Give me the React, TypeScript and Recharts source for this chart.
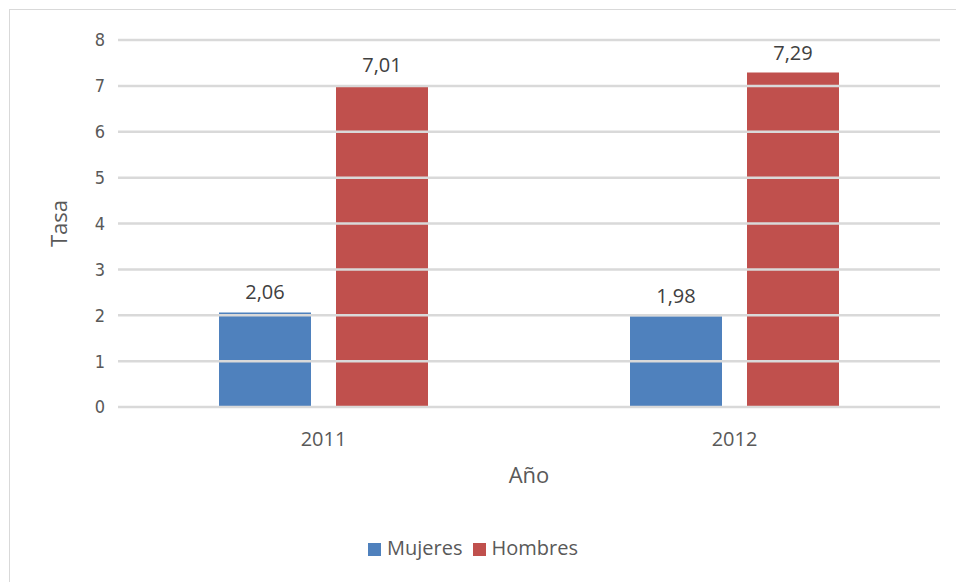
import { BarChart, Bar, XAxis, YAxis, ReferenceLine, Legend, LabelList } from 'recharts'

const years = ['2011', '2012']
const mujeres = [2.06, 1.98]
const hombres = [7.01, 7.29]
const yTicks = [0, 1, 2, 3, 4, 5, 6, 7, 8]
const seriesOrder = ['Mujeres', 'Hombres']

const BLUE = '#4F81BD'
const RED = '#C0504D'
const GRID = '#d9d9d9'
const FONT = '"Open Sans", "Noto Sans", sans-serif'

const data = years.map((y, i) => ({ year: y, mujeres: mujeres[i], hombres: hombres[i] }))

// coma decimal como en el original
const fmt = (v: any) => Number(v).toFixed(2).replace('.', ',')

export default function App() {
  return (
    <div style={{ position: 'absolute', left: 0, top: 0, width: 956, height: 582, background: '#fff', fontFamily: FONT }}>
      {/* marco del gráfico: sólo se ven el borde superior e izquierdo */}
      <div style={{ position: 'absolute', left: 9, top: 9, width: 960, height: 600, borderTop: `1px solid ${GRID}`, borderLeft: `1px solid ${GRID}` }} />
      <div style={{ position: 'absolute', left: 0, top: 0 }}>
        <BarChart
          width={956}
          height={582}
          data={data}
          margin={{ top: 40, right: 16, bottom: 95, left: 0 }}
          barSize={92}
          barGap={25}
        >
          <XAxis
            dataKey="year"
            height={80}
            axisLine={false}
            tickLine={false}
            tickSize={0}
            tickMargin={25}
            tick={{ fontSize: 20, fill: '#595959', fontFamily: FONT }}
            label={{ value: 'Año', position: 'insideBottom', offset: 4, fontSize: 22, fill: '#595959', fontFamily: FONT }}
          />
          <YAxis
            width={118}
            domain={[0, 8]}
            ticks={yTicks}
            axisLine={false}
            tickLine={false}
            tickSize={0}
            tickMargin={13}
            tick={{ fontSize: 18, fill: '#595959', fontFamily: '"DejaVu Sans Condensed", "Liberation Sans Narrow", Roboto, sans-serif' }}
            label={{ value: 'Tasa', angle: -90, position: 'center', fontSize: 22, fill: '#595959', fontFamily: FONT }}
          />
          <Bar dataKey="mujeres" name="Mujeres" fill={BLUE} isAnimationActive={false}>
            <LabelList dataKey="mujeres" position="top" offset={13} formatter={fmt} style={{ fontSize: 20, fill: '#404040', fontFamily: FONT }} />
          </Bar>
          <Bar dataKey="hombres" name="Hombres" fill={RED} isAnimationActive={false}>
            <LabelList dataKey="hombres" position="top" offset={13} formatter={fmt} style={{ fontSize: 20, fill: '#404040', fontFamily: FONT }} />
          </Bar>
          {/* líneas de cuadrícula encima de las barras, como en Excel */}
          {yTicks.map(t => (
            <ReferenceLine key={t} y={t} stroke={GRID} strokeWidth={2.5} />
          ))}
          <Legend
            verticalAlign="middle"
            align="center"
            layout="horizontal"
            iconType="square"
            iconSize={13}
            itemSorter={(item: any) => seriesOrder.indexOf(item.value)}
            wrapperStyle={{ top: 534, left: 0, width: 956, fontSize: 20, fontFamily: FONT }}
            formatter={(value: string) => <span style={{ color: '#595959', marginLeft: 2 }}>{value}</span>}
          />
        </BarChart>
      </div>
    </div>
  )
}
